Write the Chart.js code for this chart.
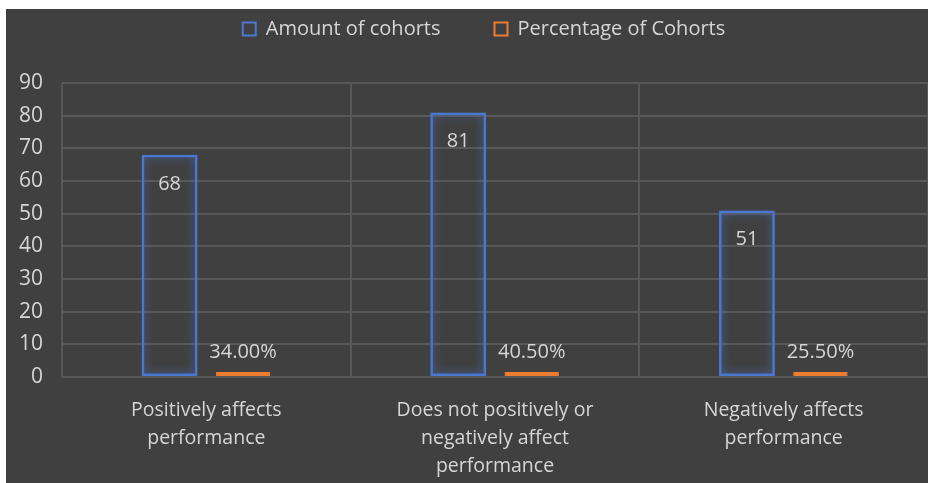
<!DOCTYPE html>
<html>
<head>
<meta charset="utf-8">
<script src="https://cdn.jsdelivr.net/npm/chart.js@4.4.1/dist/chart.umd.min.js"></script>
<style>
  html, body { margin: 0; padding: 0; background: #ffffff; }
  #wrap { position: absolute; left: 6px; top: 9px; width: 922px; height: 474px; background: #404040; }
</style>
</head>
<body>
<div id="wrap"><canvas id="cohortChart" width="922" height="474"></canvas></div>
<script>
// data
var categories = [
    ['Positively affects', 'performance'],
    ['Does not positively or', 'negatively affect', 'performance'],
    ['Negatively affects', 'performance']
];
var amountOfCohorts = [68, 81, 51];
var percentageOfCohorts = [0.34, 0.405, 0.255];
var yMin = 0;
var yMax = 90;
var yStep = 10;

var textColor = '#d6d6d6';
var gridColor = '#585858';
var blue = '#4a78d0';
var orange = '#ed7d31';

// soft glow around the bars
var glowPlugin = {
    id: 'glow',
    beforeDatasetDraw: function (chart, args) {
        var ctx = chart.ctx;
        ctx.save();
        ctx.shadowColor = args.index === 0 ? 'rgba(74,120,208,0.9)' : 'rgba(237,125,49,0.9)';
        ctx.shadowBlur = 8;
    },
    afterDatasetDraw: function (chart) {
        chart.ctx.restore();
    }
};

// value labels (inside top for amounts, above for percentages)
var valueLabels = {
    id: 'valueLabels',
    afterDatasetsDraw: function (chart) {
        var ctx = chart.ctx;
        ctx.save();
        ctx.font = '20px "Open Sans"';
        ctx.fillStyle = textColor;
        ctx.textAlign = 'center';
        ctx.textBaseline = 'middle';
        chart.data.datasets.forEach(function (ds, i) {
            chart.getDatasetMeta(i).data.forEach(function (bar, j) {
                if (i === 0) {
                    ctx.fillText(String(ds.data[j]), bar.x, bar.y + 29);
                } else {
                    ctx.fillText((ds.data[j] * 100).toFixed(2) + '%', bar.x, bar.y - 20);
                }
            });
        });
        ctx.restore();
    }
};

// legend sits in a fixed band above the plot
var legendBand = {
    id: 'legendBand',
    beforeInit: function (chart) {
        var fit = chart.legend.fit;
        chart.legend.fit = function () {
            fit.call(this);
            this.height = 74;
        };
    },
    afterLayout: function (chart) {
        chart.legend.top -= 44;
        chart.legend.left += 17;
        chart.legend.right += 17;
    }
};

var ctx = document.getElementById('cohortChart').getContext('2d');
var cohortChart = new Chart(ctx, {
    type: 'bar',
    data: {
        labels: categories,
        datasets: [{
            label: 'Amount of cohorts',
            data: amountOfCohorts,
            backgroundColor: 'rgba(0,0,0,0)',
            borderColor: blue,
            borderWidth: 2.5,
            borderSkipped: false,
            categoryPercentage: 0.509,
            barPercentage: 0.76
        }, {
            label: 'Percentage of Cohorts',
            data: percentageOfCohorts,
            backgroundColor: orange,
            borderColor: orange,
            borderWidth: 1,
            borderSkipped: false,
            minBarLength: 5,
            categoryPercentage: 0.509,
            barPercentage: 0.74
        }]
    },
    options: {
        responsive: false,
        animation: false,
        layout: { padding: 0 },
        scales: {
            x: {
                grid: { color: gridColor, lineWidth: 2, drawTicks: false },
                border: { display: false },
                ticks: {
                    color: textColor,
                    font: { family: 'Open Sans', size: 19.5, lineHeight: 1.45 },
                    padding: 19,
                    maxRotation: 0
                },
                afterFit: function (scale) { scale.height = 106; }
            },
            y: {
                min: yMin,
                max: yMax,
                grid: { color: gridColor, lineWidth: 2, drawTicks: false },
                border: { display: false },
                ticks: {
                    stepSize: yStep,
                    color: textColor,
                    font: { family: 'Open Sans', size: 21 },
                    padding: 19
                },
                afterFit: function (scale) { scale.width = 56; }
            }
        },
        plugins: {
            tooltip: { enabled: false },
            legend: {
                position: 'top',
                labels: {
                    color: textColor,
                    font: { family: 'Open Sans', size: 20 },
                    boxWidth: 13,
                    boxHeight: 13,
                    padding: 54,
                    generateLabels: function (chart) {
                        var items = Chart.defaults.plugins.legend.labels.generateLabels(chart);
                        items.forEach(function (it, i) {
                            it.fillStyle = 'rgba(0,0,0,0)';
                            it.strokeStyle = i === 0 ? blue : orange;
                            it.lineWidth = 2;
                        });
                        return items;
                    }
                }
            }
        }
    },
    plugins: [glowPlugin, valueLabels, legendBand]
});
</script>
</body>
</html>
